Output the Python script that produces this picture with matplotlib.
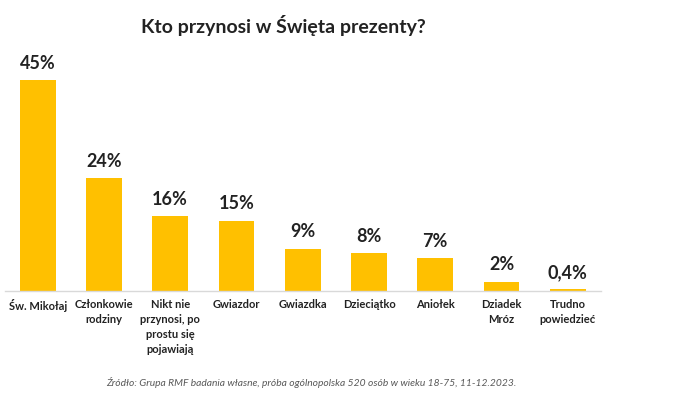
import matplotlib.pyplot as plt

# dane
kategorie = ["Św. Mikołaj", "Członkowie\nrodziny", "Nikt nie\nprzynosi, po\nprostu się\npojawiają",
             "Gwiazdor", "Gwiazdka", "Dzieciątko", "Aniołek", "Dziadek\nMróz", "Trudno\npowiedzieć"]
wartosci = [45, 24, 16, 15, 9, 8, 7, 2, 0.4]
etykiety = ["45%", "24%", "16%", "15%", "9%", "8%", "7%", "2%", "0,4%"]

plt.rcParams['font.family'] = ['Lato', 'DejaVu Sans']

fig = plt.figure(figsize=(6.8, 4.18), dpi=100)
ax = fig.add_axes([4.5 / 680, 1 - 291 / 418, 596.5 / 680, 231 / 418])

x = range(len(kategorie))
ax.bar(x, wartosci, width=0.54, color='#FFC000')
ax.set_xlim(-0.5, len(kategorie) - 0.5)
ax.set_ylim(0, 231 / 4.69)

for i, (v, t) in enumerate(zip(wartosci, etykiety)):
    ax.annotate(t, (i, v), xytext=(0, 6), textcoords='offset points',
                ha='center', va='bottom', fontsize=13, fontweight='bold', color='#222222')

ax.set_xticks(list(x))
ax.set_xticklabels(kategorie, fontsize=8, fontweight='bold', color='#222222', linespacing=1.45)
ax.tick_params(axis='x', length=0, pad=6)
ax.set_yticks([])
for s in ['top', 'right', 'left']:
    ax.spines[s].set_visible(False)
ax.spines['bottom'].set_color('#d9d9d9')
ax.spines['bottom'].set_linewidth(1)

fig.text(283 / 680, 1 - 25 / 418, "Kto przynosi w Święta prezenty?", ha='center', va='center',
         fontsize=14, fontweight='bold', color='#222222')
fig.text(311 / 680, 1 - 383 / 418,
         "Źródło: Grupa RMF badania własne, próba ogólnopolska 520 osób w wieku 18-75, 11-12.2023.",
         ha='center', va='center', fontsize=7.4, style='italic', color='#595959')

fig.savefig('out.png', dpi=100)
